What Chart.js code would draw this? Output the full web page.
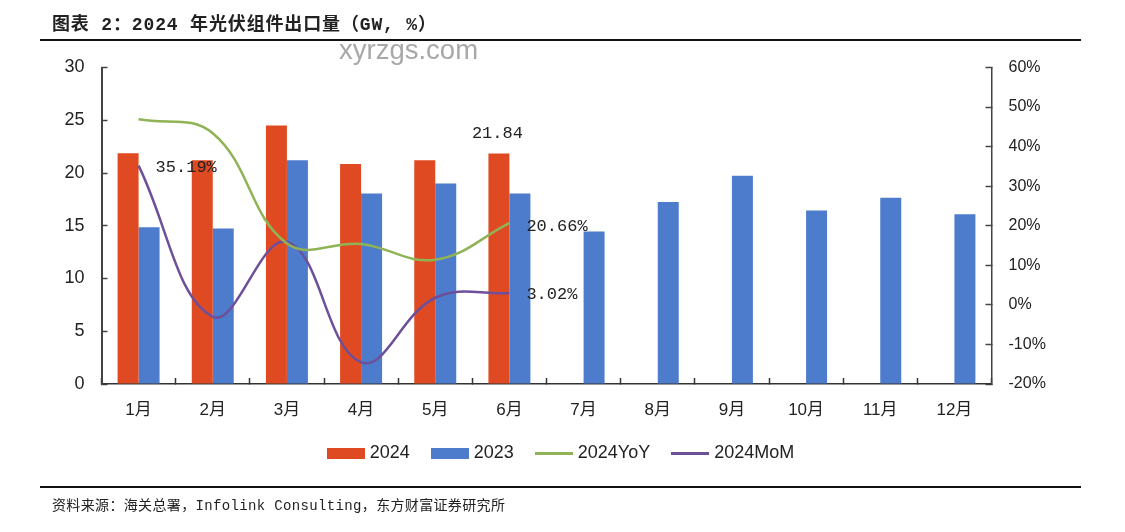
<!DOCTYPE html>
<html>
<head>
<meta charset="utf-8">
<script src="https://cdn.jsdelivr.net/npm/chart.js@4/dist/chart.umd.min.js"></script>
<style>
html, body { margin: 0; padding: 0; background: #fff; overflow: hidden; }
#wrap { position: relative; width: 1125px; height: 532px; }
canvas { position: absolute; left: 0; top: 0; }
.rule { position: absolute; left: 40px; width: 1041px; height: 2px; background: #111; }
.txt { position: absolute; white-space: pre; color: #222; }
#title { left: 52px; top: 9px; font: bold 18px "Liberation Mono", "Noto Sans CJK SC"; letter-spacing: 0.85px; }
#source { left: 52px; top: 494px; font: 14px "Liberation Mono", "Noto Sans CJK SC"; letter-spacing: 0.35px; }
#mark { left: 339px; top: 34px; font: 27.5px "Liberation Sans"; color: #a8a8a8; }
</style>
</head>
<body>
<div id="wrap">
  <canvas id="myChart" width="1125" height="532"></canvas>
  <div class="rule" style="top:39px"></div>
  <div class="rule" style="top:486px"></div>
  <div class="txt" id="title">图表 2：2024 年光伏组件出口量（GW, %）</div>
  <div class="txt" id="mark">xyrzgs.com</div>
  <div class="txt" id="source">资料来源：海关总署，Infolink Consulting，东方财富证券研究所</div>
</div>
<script>
var months = ["1月", "2月", "3月", "4月", "5月", "6月", "7月", "8月", "9月", "10月", "11月", "12月"];
var exports2024 = [21.87, 21.2, 24.5, 20.85, 21.2, 21.84];
var exports2023 = [14.86, 14.75, 21.2, 18.05, 19.0, 18.05, 14.45, 17.25, 19.75, 16.45, 17.65, 16.1];
var yoy2024 = [46.9, 43.4, 15.5, 15.4, 11.4, 20.66];
var mom2024 = [35.19, -3, 16, -14.5, 1.8, 3.02];

var orange = '#e04a22', blue = '#4c7ccb', green = '#90b356', purple = '#6e4f9a';

// legend keys: chart.js only does one box size, so use small canvases as point styles
function legendKey(color, h) {
    var c = document.createElement('canvas');
    c.width = 38;
    c.height = h;
    var g = c.getContext('2d');
    g.fillStyle = color;
    g.fillRect(0, 0, 38, h);
    return c;
}
var keys = [legendKey(orange, 11), legendKey(blue, 11), legendKey(green, 3), legendKey(purple, 3)];

// the four values printed on the chart: dataset, point, text, shift from the mark
var valueLabels = [
    { ds: 2, i: 5, text: '20.66%', dx: 17, dy: 3 },
    { ds: 3, i: 0, text: '35.19%', dx: 17, dy: 2 },
    { ds: 3, i: 5, text: '3.02%', dx: 17, dy: 2 },
    { ds: 0, i: 5, text: '21.84', dx: -27, dy: -20 }
];

var labelPlugin = {
    id: 'valueLabels',
    afterDatasetsDraw: function (chart) {
        var c = chart.ctx;
        c.save();
        c.font = '17px "Liberation Mono", "Noto Sans CJK SC"';
        c.fillStyle = '#222';
        c.textBaseline = 'middle';
        valueLabels.forEach(function (l) {
            var el = chart.getDatasetMeta(l.ds).data[l.i];
            c.fillText(l.text, el.x + l.dx, el.y + l.dy);
        });
        c.restore();
    }
};

var ctx = document.getElementById('myChart').getContext('2d');
var chart = new Chart(ctx, {
    type: 'bar',
    plugins: [labelPlugin],
    data: {
        labels: months,
        datasets: [
            { label: '2024', data: exports2024, backgroundColor: orange, order: 2, yAxisID: 'y' },
            { label: '2023', data: exports2023, backgroundColor: blue, order: 2, yAxisID: 'y' },
            { type: 'line', label: '2024YoY', data: yoy2024, borderColor: green, backgroundColor: green,
              borderWidth: 2.5, pointRadius: 0, tension: 0.4, order: 1, yAxisID: 'y1' },
            { type: 'line', label: '2024MoM', data: mom2024, borderColor: purple, backgroundColor: purple,
              borderWidth: 2.5, pointRadius: 0, tension: 0.4, order: 1, yAxisID: 'y1' }
        ]
    },
    options: {
        responsive: false,
        animation: false,
        categoryPercentage: 0.566,
        barPercentage: 1,
        layout: { padding: { top: 67.5, bottom: 60 } },
        plugins: {
            tooltip: { enabled: false },
            legend: {
                position: 'bottom',
                labels: {
                    color: '#222',
                    font: { family: '"Liberation Sans"', size: 18 },
                    usePointStyle: true,
                    pointStyleWidth: 30,
                    boxHeight: 11,
                    padding: 25,
                    generateLabels: function (chart) {
                        // metas come back sorted by draw order, put them back in dataset order
                        return Chart.defaults.plugins.legend.labels.generateLabels(chart)
                            .sort(function (a, b) { return a.datasetIndex - b.datasetIndex; })
                            .map(function (item) {
                                item.pointStyle = keys[item.datasetIndex];
                                return item;
                            });
                    }
                }
            }
        },
        scales: {
            x: {
                afterFit: function (s) { s.height = 35; },
                border: { color: '#333', width: 1.5 },
                grid: { drawOnChartArea: false, tickLength: -6, tickColor: '#333', tickWidth: 1.5 },
                ticks: { color: '#222', padding: 22, maxRotation: 0, autoSkip: false,
                         font: { family: '"Liberation Sans", "Noto Sans CJK SC"', size: 17 } }
            },
            y: {
                position: 'left',
                min: 0, max: 30,
                afterFit: function (s) { s.width = 101.5; },
                border: { color: '#444', width: 2 },
                grid: { drawOnChartArea: false, tickLength: -6, tickColor: '#444', tickWidth: 1.5 },
                ticks: { stepSize: 5, color: '#222', padding: 23,
                         font: { family: '"Liberation Sans"', size: 18 } }
            },
            y1: {
                position: 'right',
                min: -20, max: 60,
                afterFit: function (s) { s.width = 133.5; },
                border: { color: '#444', width: 1.5 },
                grid: { drawOnChartArea: false, tickLength: -6, tickColor: '#444', tickWidth: 1.5 },
                ticks: { stepSize: 10, color: '#222', padding: 23,
                         font: { family: '"Liberation Sans"', size: 16 },
                         callback: function (v) { return v + '%'; } }
            }
        }
    }
});
</script>
</body>
</html>
